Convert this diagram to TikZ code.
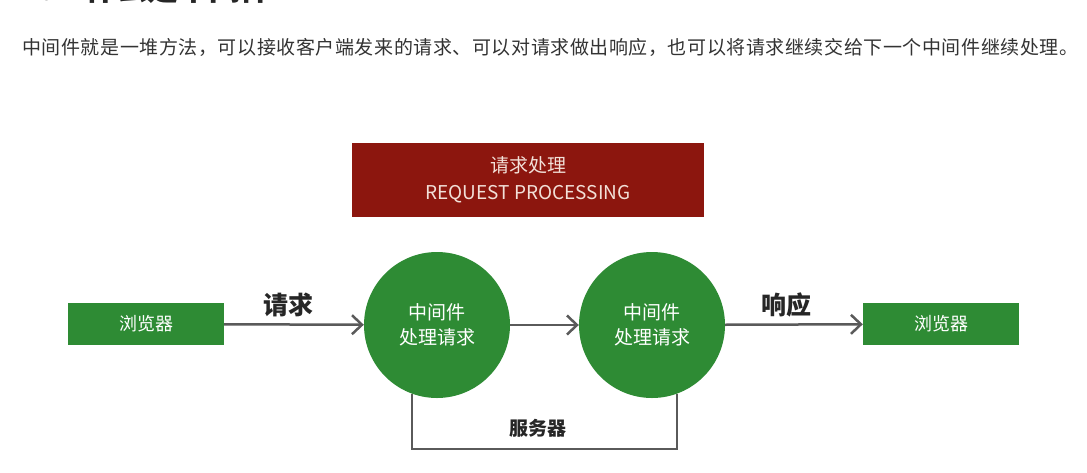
\documentclass[tikz,border=0pt]{standalone}
\usepackage{fontspec}
\setmainfont{Noto Sans CJK SC}
\usetikzlibrary{arrows.meta,positioning}
\definecolor{cGreen}{RGB}{46,139,52}
\definecolor{cRed}{RGB}{140,22,14}
\definecolor{cLine}{RGB}{90,90,90}
\definecolor{cText}{RGB}{51,51,51}
\definecolor{cPale}{RGB}{242,224,216}

\begin{document}
\begin{tikzpicture}[x=1pt,y=-1pt,
  box/.style={fill=cGreen,minimum width=156pt,minimum height=42pt,inner sep=0pt,
    text=white,font=\fontsize{18}{20}\selectfont},
  mid/.style={circle,fill=cGreen,minimum size=146pt,inner sep=0pt,text=white,
    align=center,font=\fontsize{19}{25}\selectfont},
  flow/.style={draw=cLine,line width=2.5pt,-{Straight Barb[length=10pt,width=19pt]}},
  wire/.style={draw=cLine,line width=2.5pt},
  lbl/.style={font=\fontsize{25}{25}\selectfont\bfseries,text=black!85}]
  \fill[white] (0,0) rectangle (1087,472);
  \clip (0,0) rectangle (1087,472);
  % heading, cut off at the top
  \node[anchor=base west,inner sep=0pt,text=black!45,font=\fontsize{31}{31}\selectfont\bfseries] (num) at (22,0) {2.1};
  \node[anchor=base west,inner sep=0pt,text=black!85,font=\fontsize{31}{31}\selectfont\bfseries] (title) at (85,0) {什么是中间件};
  \node[anchor=west,inner sep=0pt,text=cText,font=\fontsize{19}{20}\selectfont\addfontfeature{LetterSpace=3}] (intro) at (22,47)
    {中间件就是一堆方法，可以接收客户端发来的请求、可以对请求做出响应，也可以将请求继续交给下一个中间件继续处理。};
  % request processing banner
  \node[fill=cRed,minimum width=352pt,minimum height=74pt,inner sep=0pt,align=center,
    text=cPale,font=\fontsize{19}{27}\selectfont] (banner) at (528,180) {请求处理\\REQUEST PROCESSING};
  % flow
  \node[box] (left) at (146,324) {浏览器};
  \node[mid] (mw1) at (437,325) {中间件\\处理请求};
  \node[mid] (mw2) at (652,325) {中间件\\处理请求};
  \node[box] (right) at (941,324) {浏览器};
  \draw[flow] (left) -- (mw1);
  \draw[flow] (mw1) -- (mw2);
  \draw[flow] (mw2) -- (right);
  \node[lbl] (reqlbl) at (288,305) {请求};
  \node[lbl] (reslbl) at (786,305) {响应};
  % server bracket
  \draw[wire] (mw1.250) -- ++(0,55) -| (mw2.290);
  \node[font=\fontsize{19}{19}\selectfont\bfseries,text=black!85] (server) at (538,428) {服务器};
\end{tikzpicture}
\end{document}
